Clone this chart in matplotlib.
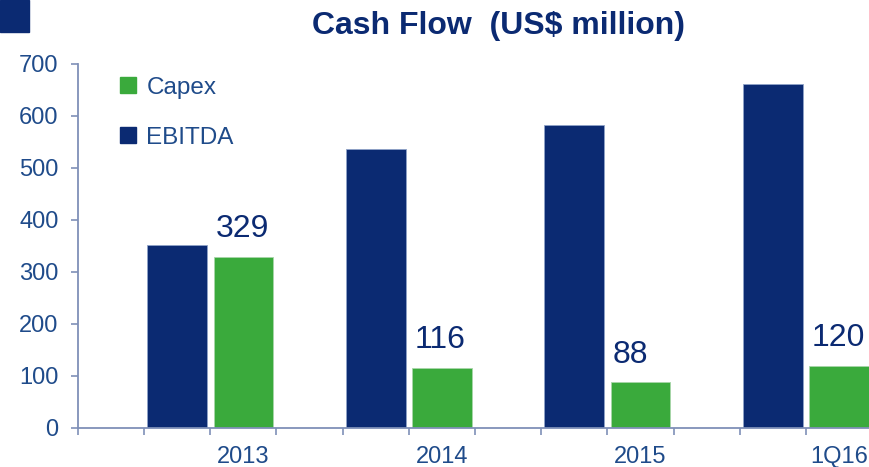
import matplotlib.pyplot as plt
from matplotlib.patches import Rectangle, Patch

# Cash flow figures, US$ million
periods = ["2013", "2014", "2015", "1Q16"]
ebitda = [352, 537, 583, 661]
capex = [329, 116, 88, 120]

NAVY = "#0B2A72"
GREEN = "#3AAA3C"
TEXT = "#1F4B8A"
AXIS = "#7F90B8"

plt.rcParams["font.family"] = ["Liberation Sans", "DejaVu Sans"]

fig = plt.figure(figsize=(8.69, 4.67), dpi=100)
ax = fig.add_axes([78 / 869, 39 / 467, 794 / 869, 364 / 467])

# each period takes three slots: gap, EBITDA, Capex
ebitda_x = [1 + 3 * i for i in range(len(periods))]
capex_x = [2 + 3 * i for i in range(len(periods))]

ax.bar(ebitda_x, ebitda, width=0.9, color=NAVY, edgecolor="#8FA3C8", linewidth=0.6, label="EBITDA")
ax.bar(capex_x, capex, width=0.9, color=GREEN, edgecolor="#A9D6A9", linewidth=0.6, label="Capex")

for x, v in zip(capex_x, capex):
    ax.annotate(str(v), (x - 0.42, v), xytext=(0, 9), textcoords="offset points",
                ha="left", va="bottom", fontsize=23, color=NAVY)

ax.set_xlim(-0.5, 11.5)
ax.set_ylim(0, 700)
ax.set_yticks(range(0, 701, 100))
ax.set_xticks(capex_x)
ax.set_xticklabels(periods)
ax.set_xticks([k - 0.5 for k in range(13)], minor=True)

ax.tick_params(axis="y", colors=AXIS, labelcolor=TEXT, labelsize=17, length=5, width=1.2, pad=9)
ax.tick_params(axis="x", which="major", length=0, labelcolor=TEXT, labelsize=17, pad=13)
ax.tick_params(axis="x", which="minor", colors=AXIS, length=5, width=1.2, direction="out")

for side in ["top", "right"]:
    ax.spines[side].set_visible(False)
for side in ["left", "bottom"]:
    ax.spines[side].set_color(AXIS)
    ax.spines[side].set_linewidth(1.3)

handles = [Patch(color=GREEN, label="Capex"), Patch(color=NAVY, label="EBITDA")]
ax.legend(handles=handles, loc="upper left", bbox_to_anchor=(0.025, 1.025), frameon=False,
          fontsize=17.5, labelcolor=TEXT, handlelength=0.65, handleheight=0.65,
          handletextpad=0.45, labelspacing=1.15)

fig.text(498 / 869, 1 - 26 / 467, "Cash Flow  (US$ million)", ha="center", va="center",
         fontsize=23, fontweight="bold", color=NAVY)

# corner block of the slide
fig.patches.append(Rectangle((0, 1 - 32 / 467), 29 / 869, 32 / 467,
                             transform=fig.transFigure, color=NAVY, zorder=0))

fig.savefig("out.png", dpi=100)
